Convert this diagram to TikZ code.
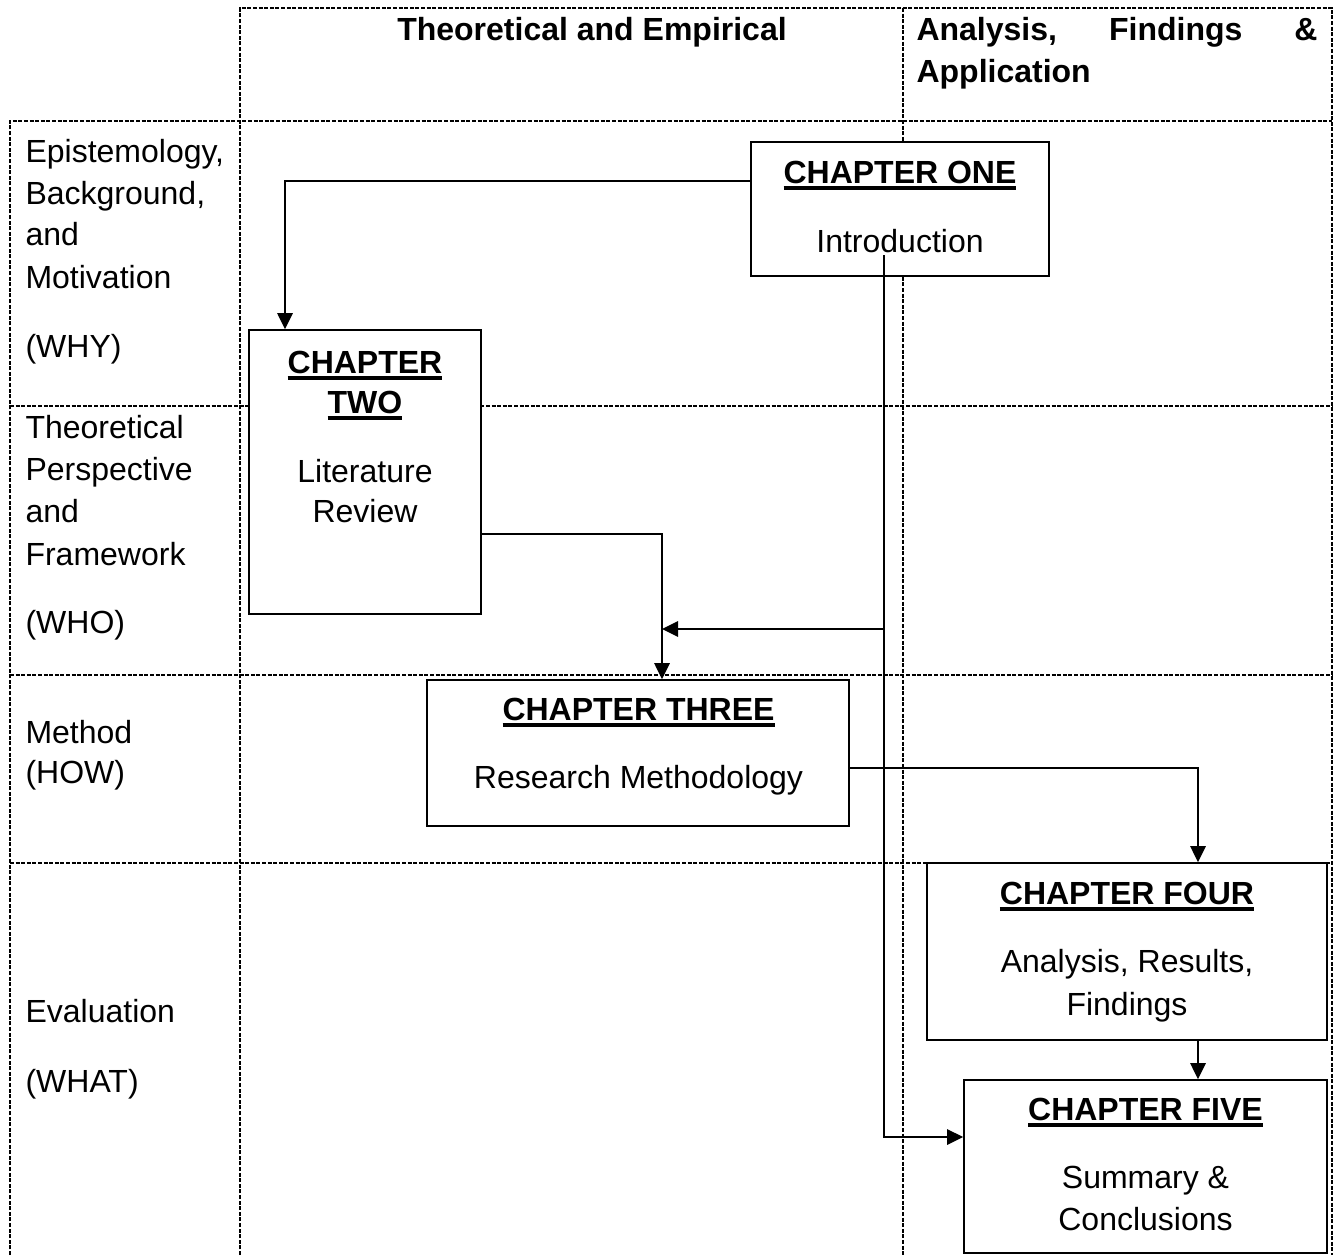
\documentclass[tikz,border=0pt]{standalone}
\usepackage{fontspec}
\setmainfont{Liberation Sans}
\usetikzlibrary{arrows.meta,fit}
\newdimen\pxu \pxu=0.375pt
% underlined chapter titles: a heavy bar just below the baseline
\newcommand\ulbar[1]{\setbox0\hbox{#1}\rlap{\rule[-2.5pt]{\wd0}{1.2pt}}\box0}

\begin{document}
\begin{tikzpicture}[x=0.375pt,y=-0.375pt,
  grid/.style={line width=0.85pt, dash pattern=on 1.5pt off 0.6pt},
  chbox/.style={draw, fill=white, line width=0.65pt, inner sep=0pt},
  conn/.style={line width=0.55pt},
  tip/.style={-{Triangle[length=6pt,width=5.8pt]}},
  txt/.style={inner sep=0pt, anchor=base, font=\fontsize{12pt}{14pt}\selectfont},
  lbl/.style={txt, anchor=base west},
  ttl/.style={txt, font=\fontsize{12pt}{14pt}\selectfont\bfseries},
]
\useasboundingbox (0,0) rectangle (1340,1255);

% dashed table grid
\draw[grid] (240,1255) -- (240,8) -- (1332,8) -- (1332,1255);
\draw[grid] (903,8) -- (903,1255);
\draw[grid] (10,1255) -- (10,121) -- (1332,121);
\foreach \yy in {406,675,863} \draw[grid] (10,\yy) -- (1332,\yy);

% chapter boxes
\node[chbox, fit={(751,142) (1049,276)}] (c1) {};
\node[chbox, fit={(249,330) (481,614)}] (c2) {};
\node[chbox, fit={(427,680) (849,826)}] (c3) {};
\node[chbox, fit={(927,863) (1327,1040)}] (c4) {};
\node[chbox, fit={(964,1080) (1327,1253)}] (c5) {};

% connector routing points
\coordinate (tap) at (884,255);
\coordinate (bend) at (884,1137);
\coordinate (join) at (884,629);
\coordinate (mid) at (662,629);

% connectors
\draw[conn,tip] (c1.west |- 0,181) -| (c2.north -| 285,0);
\draw[conn,tip] (c2.east |- 0,534) -| (c3.north -| 662,0);
\draw[conn,tip] (tap) -- (bend) -- (c5.west |- bend);
\draw[conn,tip] (join) -- (mid);
\draw[conn,tip] (c3.east |- 0,768) -| (c4.north -| 1198,0);
\draw[conn,tip] (c4.south -| 1198,0) -- (c5.north -| 1198,0);

% column headings
\node[ttl] (h1) at (592,40) {Theoretical and Empirical};
\node[ttl, anchor=base west] (h2) at (916,40) {\makebox[401\pxu][l]{Analysis,\hfill Findings\hfill\&}};
\node[ttl, anchor=base west] (h3) at (916,82) {Application};

% row labels
\node[lbl] (r1a) at (25,162) {Epistemology,};
\node[lbl] (r1b) at (25,204) {Background,};
\node[lbl] (r1c) at (25,245) {and};
\node[lbl] (r1d) at (25,288) {Motivation};
\node[lbl] (r1e) at (25,357) {(WHY)};
\node[lbl] (r2a) at (25,438) {Theoretical};
\node[lbl] (r2b) at (25,480) {Perspective};
\node[lbl] (r2c) at (25,522) {and};
\node[lbl] (r2d) at (25,565) {Framework};
\node[lbl] (r2e) at (25,633) {(WHO)};
\node[lbl] (r3a) at (25,743) {Method};
\node[lbl] (r3b) at (25,783) {(HOW)};
\node[lbl] (r4a) at (25,1022) {Evaluation};
\node[lbl] (r4b) at (25,1092) {(WHAT)};

% chapter texts
\node[ttl] (c1a) at (900,183) {\ulbar{CHAPTER ONE}};
\node[txt] (c1b) at (900,252) {Introduction};
\node[ttl] (c2a) at (365,373) {\ulbar{CHAPTER}};
\node[ttl] (c2b) at (365,413) {\ulbar{TWO}};
\node[txt] (c2c) at (365,482) {Literature};
\node[txt] (c2d) at (365,522) {Review};
\node[ttl] (c3a) at (638.5,720) {\ulbar{CHAPTER THREE}};
\node[txt] (c3b) at (638.5,788) {Research Methodology};
\node[ttl] (c4a) at (1127,904) {\ulbar{CHAPTER FOUR}};
\node[txt] (c4b) at (1127,972) {Analysis, Results,};
\node[txt] (c4c) at (1127,1015) {Findings};
\node[ttl] (c5a) at (1145.5,1120) {\ulbar{CHAPTER FIVE}};
\node[txt] (c5b) at (1145.5,1188) {Summary \&};
\node[txt] (c5c) at (1145.5,1230) {Conclusions};
\end{tikzpicture}
\end{document}
